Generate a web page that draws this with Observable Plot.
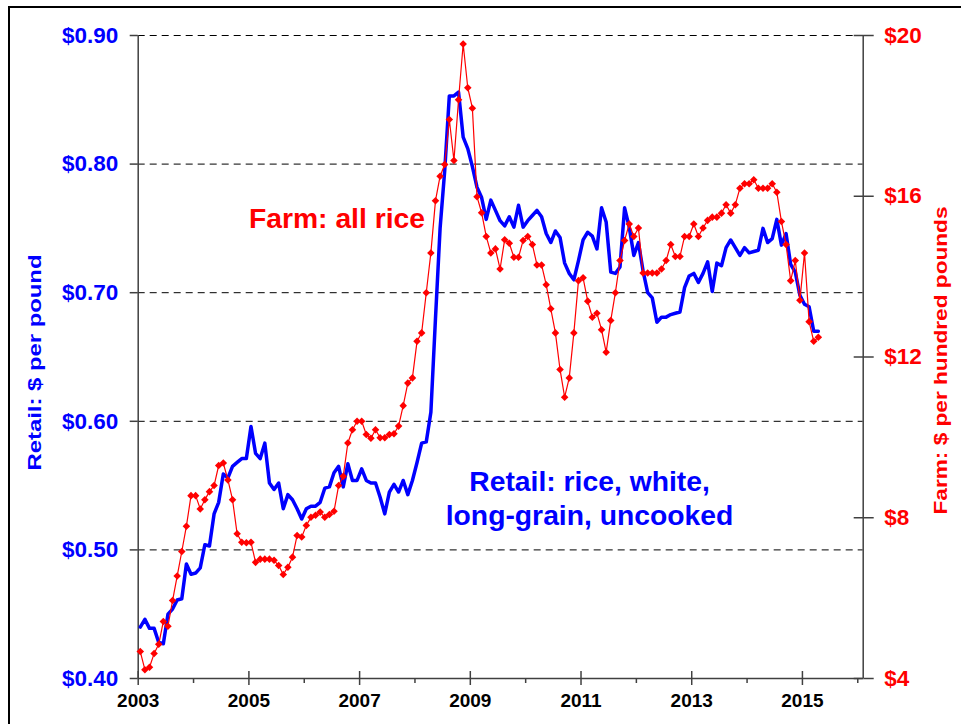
<!DOCTYPE html>
<html><head><meta charset="utf-8">
<script src="https://cdn.jsdelivr.net/npm/d3@7"></script>
<script src="https://cdn.jsdelivr.net/npm/@observablehq/plot@0.6"></script>
<style>
html,body{margin:0;padding:0;background:#fff;overflow:hidden;width:961px;height:724px;}
#chart{position:absolute;left:0;top:0;}
#frame{position:absolute;left:8px;top:6px;width:1200px;height:1000px;border:2.5px solid #000;box-sizing:border-box;pointer-events:none;z-index:2;}
</style></head><body>
<div id="chart"></div>
<div id="frame"></div>
<script>
// Monthly series, Jan 2003 – Apr 2015
const startYear = 2003;
const retail = [
 0.440,0.446,0.439,0.439,0.428,0.427,0.450,0.454,0.461,0.462,0.489,0.481,
 0.482,0.486,0.504,0.503,0.528,0.537,0.559,0.556,0.565,0.568,0.571,0.571,
 0.596,0.575,0.571,0.583,0.552,0.547,0.552,0.532,0.543,0.539,0.532,0.524,
 0.532,0.534,0.534,0.537,0.548,0.549,0.560,0.565,0.549,0.567,0.554,0.554,
 0.563,0.554,0.552,0.552,0.541,0.528,0.545,0.551,0.545,0.554,0.543,0.554,
 0.568,0.583,0.584,0.607,0.680,0.750,0.795,0.853,0.853,0.856,0.821,0.812,
 0.798,0.782,0.774,0.757,0.772,0.764,0.756,0.752,0.759,0.751,0.768,0.751,
 0.756,0.760,0.764,0.759,0.746,0.739,0.748,0.743,0.723,0.715,0.710,0.725,
 0.741,0.747,0.744,0.734,0.766,0.755,0.716,0.715,0.720,0.766,0.751,0.729,
 0.739,0.717,0.700,0.696,0.677,0.681,0.681,0.683,0.684,0.685,0.704,0.713,
 0.715,0.708,0.715,0.724,0.701,0.723,0.721,0.735,0.741,0.735,0.729,0.735,
 0.731,0.732,0.733,0.750,0.739,0.742,0.757,0.737,0.746,0.722,0.716,0.698,
 0.691,0.689,0.670,0.670];
const farm = [
 4.67,4.22,4.28,4.62,4.85,5.42,5.30,5.94,6.55,7.16,7.79,8.55,
 8.55,8.22,8.45,8.65,8.80,9.30,9.36,8.94,8.45,7.60,7.39,7.38,
 7.39,6.89,6.97,6.97,6.97,6.94,6.81,6.59,6.77,7.02,7.56,7.52,
 7.81,8.01,8.06,8.14,8.01,8.08,8.16,8.80,9.03,9.86,10.19,10.40,
 10.40,10.07,9.98,10.19,9.99,9.99,10.07,10.09,10.28,10.79,11.35,11.48,
 12.39,12.60,13.60,14.59,15.89,16.50,16.79,17.91,16.89,18.40,19.79,18.70,
 18.19,15.99,15.59,15.00,14.59,14.69,14.19,14.92,14.83,14.48,14.48,14.90,
 15.00,14.80,14.29,14.29,13.80,13.20,12.60,11.69,11.00,11.48,12.60,13.90,
 13.97,13.39,12.99,13.09,12.68,12.12,12.91,13.60,14.40,14.90,15.31,15.00,
 15.21,14.09,14.09,14.09,14.09,14.19,14.40,14.80,14.50,14.50,15.00,15.00,
 15.31,15.00,15.21,15.40,15.48,15.48,15.58,15.79,15.58,15.79,16.20,16.31,
 16.31,16.41,16.20,16.20,16.20,16.31,16.10,15.37,14.80,13.90,14.40,13.41,
 14.59,12.88,12.39,12.49];
const labelYears = [2003, 2005, 2007, 2009, 2011, 2013, 2015];
const minorYears = [2004, 2006, 2008, 2010, 2012, 2014, 2016];
const retailTicks = [0.40, 0.50, 0.60, 0.70, 0.80, 0.90];
const gridTicks = [0.50, 0.60, 0.70, 0.80, 0.90];
const farmTicks = [4, 8, 12, 16, 20];
const xDomain = [2003, 2016.098];
const yDomain = [0.40, 0.90];

// Farm ($/cwt) shares the frame with retail ($/lb): $4 ↔ $0.40, $20 ↔ $0.90
const farmToY = f => 0.40 + (f - 4) / 32;
const yToFarm = y => 4 + (y - 0.40) * 32;
const monthT = i => startYear + (i + 0.45) / 12;

const retailData = retail.map((v, i) => ({t: monthT(i), v}));
const farmData = farm.map((f, i) => ({t: monthT(i), v: farmToY(f)}));

const BLUE = "#0000ff", RED = "#ff0000", AXIS = "#404040";
const bold = {fontWeight: "bold"};

const chart = Plot.plot({
  width: 961, height: 724,
  marginLeft: 137.7, marginRight: 98.3, marginTop: 35, marginBottom: 46,
  style: {fontFamily: "'Liberation Sans', Arial, sans-serif", background: "transparent"},
  x: {domain: xDomain},
  y: {domain: yDomain},
  marks: [
    Plot.gridY(gridTicks, {stroke: "#000", strokeOpacity: 1, strokeWidth: 1, strokeDasharray: "7,5"}),
    Plot.ruleX([xDomain[0], xDomain[1]], {stroke: AXIS, strokeWidth: 1.5}),
    Plot.ruleY([yDomain[0]], {stroke: AXIS, strokeWidth: 1.5}),
    // left axis
    Plot.axisY(retailTicks, {anchor: "left", tickSize: 8, tickPadding: 12, stroke: AXIS, strokeWidth: 1.5,
      tickFormat: d => "$" + d.toFixed(2), fill: BLUE, fontSize: 22.5, ...bold, label: null}),
    // right axis
    Plot.axisY(farmTicks.map(farmToY), {anchor: "right", tickSize: 10, tickPadding: 11, stroke: AXIS, strokeWidth: 1.5,
      tickFormat: d => "$" + Math.round(yToFarm(d)), fill: RED, fontSize: 22.5, ...bold, label: null}),
    Plot.axisY(farmTicks.map(farmToY), {anchor: "right", tickSize: 10, dx: -10, stroke: AXIS, strokeWidth: 1.5,
      tickFormat: () => "", label: null}),
    // x axis
    Plot.axisX(labelYears, {anchor: "bottom", tickSize: 7, stroke: AXIS, strokeWidth: 1.5, tickFormat: () => "", label: null}),
    Plot.axisX(labelYears, {anchor: "bottom", tickSize: 7, dy: -7, stroke: AXIS, strokeWidth: 1.5, tickFormat: () => "", label: null}),
    Plot.axisX(minorYears, {anchor: "bottom", tickSize: 5, stroke: AXIS, strokeWidth: 1.5, tickFormat: () => "", label: null}),
    Plot.axisX(labelYears, {anchor: "bottom", tickSize: 0, tickPadding: 15, tickFormat: d => String(d),
      fill: "#000", fontSize: 19, ...bold, label: null}),
    // series
    Plot.line(retailData, {x: "t", y: "v", stroke: BLUE, strokeWidth: 3.5, strokeLinejoin: "round"}),
    Plot.line(farmData, {x: "t", y: "v", stroke: RED, strokeWidth: 1.2}),
    Plot.dot(farmData, {x: "t", y: "v", symbol: "diamond2", r: 3.4, fill: RED, stroke: null}),
    // annotations
    Plot.text(["Farm: all rice"], {x: 2005.0, y: 0.757, text: d => d, textAnchor: "start", lineAnchor: "middle",
      fill: RED, fontSize: 28.3, ...bold}),
    Plot.text(["Retail: rice, white,\nlong-grain, uncooked"], {x: 2011.154, y: 0.541, text: d => d, textAnchor: "middle",
      lineAnchor: "middle", lineHeight: 1.18, fill: BLUE, fontSize: 28.3, ...bold}),
    // axis titles
    Plot.text(["Retail: $ per pound"], {frameAnchor: "left", dx: -103.7, dy: 5.5, rotate: -90, text: d => d,
      textAnchor: "middle", lineAnchor: "middle", fill: BLUE, fontSize: 19, ...bold}),
    Plot.text(["Farm: $ per hundred pounds"], {frameAnchor: "right", dx: 77.3, dy: 3.5, rotate: -90, text: d => d,
      textAnchor: "middle", lineAnchor: "middle", fill: RED, fontSize: 19, ...bold})
  ]
});
document.getElementById("chart").appendChild(chart);

// stretch rotated titles to the reference length
chart.querySelectorAll("text").forEach(t => {
  if (t.textContent === "Retail: $ per pound") { t.setAttribute("textLength", 216); t.setAttribute("lengthAdjust", "spacingAndGlyphs"); }
  if (t.textContent === "Farm: $ per hundred pounds") { t.setAttribute("textLength", 308); t.setAttribute("lengthAdjust", "spacingAndGlyphs"); }
});
</script>
</body></html>
